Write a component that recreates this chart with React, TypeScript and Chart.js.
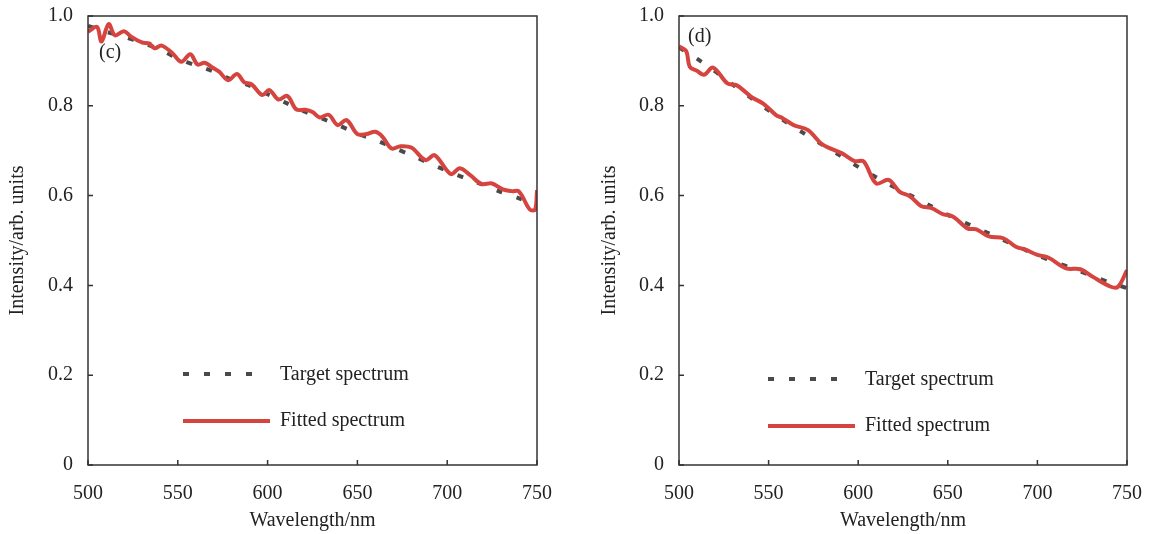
import React, { useEffect, useRef } from "react";
import { Chart, registerables } from "chart.js";

Chart.register(...registerables);

// ---------- tick labels ----------
const xTickValues = [500, 550, 600, 650, 700, 750];
const yTickValues = [0, 0.2, 0.4, 0.6, 0.8, 1.0];
const yTickLabels = ["0", "0.2", "0.4", "0.6", "0.8", "1.0"];

// ---------- panel (c) ----------
const targetC_wl = [500, 510, 520, 530, 540, 550, 560, 570, 580, 590, 600, 610, 620, 630, 640, 650, 660, 670, 680, 690, 700, 710, 720, 730, 740, 750];
const targetC = [0.978, 0.965, 0.954, 0.94, 0.926, 0.905, 0.89, 0.876, 0.858, 0.845, 0.826, 0.807, 0.788, 0.772, 0.756, 0.738, 0.724, 0.707, 0.69, 0.672, 0.655, 0.639, 0.624, 0.608, 0.594, 0.578];

const fittedC_wl = [500, 505, 507.5, 511.5, 515, 520, 524, 530, 534, 537, 541, 547, 552, 557, 561, 565, 569, 573, 578, 583, 587, 591, 597, 601, 606, 611, 616, 621, 625, 629, 634, 639, 644, 650, 655, 660, 664, 669, 674, 680, 688, 693, 702, 707, 713, 719, 725, 731, 736, 740, 746, 749, 750];
const fittedC = [0.965, 0.976, 0.943, 0.982, 0.957, 0.966, 0.954, 0.941, 0.939, 0.928, 0.934, 0.917, 0.898, 0.915, 0.892, 0.896, 0.886, 0.876, 0.857, 0.871, 0.852, 0.848, 0.824, 0.835, 0.814, 0.822, 0.792, 0.791, 0.786, 0.774, 0.78, 0.757, 0.768, 0.737, 0.737, 0.742, 0.731, 0.705, 0.71, 0.707, 0.679, 0.69, 0.648, 0.661, 0.645, 0.626, 0.627, 0.614, 0.61, 0.609, 0.569, 0.569, 0.612];

// ---------- panel (d) ----------
const targetD_wl = [500, 510, 520, 530, 540, 550, 560, 570, 580, 590, 600, 610, 620, 630, 640, 650, 660, 670, 680, 690, 700, 710, 720, 730, 740, 750];
const targetD = [0.93, 0.905, 0.877, 0.847, 0.818, 0.79, 0.763, 0.738, 0.713, 0.689, 0.664, 0.641, 0.619, 0.599, 0.578, 0.557, 0.539, 0.521, 0.503, 0.485, 0.467, 0.452, 0.437, 0.422, 0.407, 0.394];

const fittedD_wl = [500, 504, 506, 510, 514, 519, 527, 532, 537, 541, 547, 554, 558, 564, 572, 580, 591, 598, 603, 610, 617, 623, 629, 635, 641, 647, 653, 661, 666, 673, 681, 688, 693, 700, 706, 716, 724, 731, 741, 745, 750];
const fittedD = [0.932, 0.922, 0.887, 0.878, 0.869, 0.885, 0.85, 0.846, 0.831, 0.818, 0.805, 0.78, 0.772, 0.757, 0.746, 0.714, 0.694, 0.677, 0.676, 0.627, 0.635, 0.609, 0.598, 0.577, 0.572, 0.559, 0.553, 0.527, 0.525, 0.509, 0.505, 0.486, 0.48, 0.468, 0.462, 0.438, 0.436, 0.419, 0.397, 0.397, 0.434];

const legendLabels = ["Target spectrum", "Fitted spectrum"];

const FONT_FAMILY = "'Liberation Serif', 'Times New Roman', serif";
const TEXT_COLOR = "#222222";
const AXIS_COLOR = "#333333";
const RED = "#d5443f";
const DOT = "#4a4a4a";
const DASH = [6, 15];

const decoPlugin = {
  id: "deco",
  afterDraw(chart: any, _args: any, opts: any) {
    const ctx = chart.ctx;
    const { left, right, top, bottom } = chart.chartArea;
    ctx.save();
    // frame
    ctx.strokeStyle = AXIS_COLOR;
    ctx.lineWidth = 1.5;
    ctx.setLineDash([]);
    ctx.strokeRect(left, top, right - left, bottom - top);
    // inner ticks
    const xs = chart.scales.x;
    const ys = chart.scales.y;
    ctx.beginPath();
    xTickValues.forEach((v) => {
      const px = xs.getPixelForValue(v);
      ctx.moveTo(px, bottom);
      ctx.lineTo(px, bottom - 5);
    });
    yTickValues.forEach((v) => {
      const py = ys.getPixelForValue(v);
      ctx.moveTo(left, py);
      ctx.lineTo(left + 5, py);
    });
    ctx.stroke();
    // panel label
    ctx.fillStyle = TEXT_COLOR;
    ctx.font = `20px ${FONT_FAMILY}`;
    ctx.textBaseline = "middle";
    ctx.textAlign = "left";
    ctx.fillText(opts.label, opts.labelX, opts.labelY);
    // legend
    ctx.lineWidth = 4;
    ctx.strokeStyle = DOT;
    ctx.setLineDash(DASH);
    ctx.beginPath();
    ctx.moveTo(opts.legX, opts.legY1);
    ctx.lineTo(opts.legX + 74, opts.legY1);
    ctx.stroke();
    ctx.setLineDash([]);
    ctx.strokeStyle = RED;
    ctx.beginPath();
    ctx.moveTo(opts.legX, opts.legY2);
    ctx.lineTo(opts.legX + 87, opts.legY2);
    ctx.stroke();
    ctx.fillText(legendLabels[0], opts.textX, opts.legY1 + 1);
    ctx.fillText(legendLabels[1], opts.textX, opts.legY2);
    ctx.restore();
  },
};

function makeConfig(
  targetWl: number[],
  target: number[],
  fittedWl: number[],
  fitted: number[],
  yAxisWidth: number,
  titlePadTop: number,
  deco: any
): any {
  const font = { family: FONT_FAMILY, size: 20 };
  return {
    type: "line",
    data: {
      datasets: [
        {
          label: legendLabels[1],
          data: fittedWl.map((x, i) => ({ x, y: fitted[i] })),
          borderColor: RED,
          borderWidth: 4,
          pointRadius: 0,
          tension: 0.35,
          fill: false,
        },
        {
          label: legendLabels[0],
          data: targetWl.map((x, i) => ({ x, y: target[i] })),
          borderColor: DOT,
          borderWidth: 4,
          borderDash: DASH,
          pointRadius: 0,
          tension: 0.3,
          fill: false,
        },
      ],
    },
    options: {
      animation: false,
      responsive: false,
      devicePixelRatio: 1,
      layout: { padding: deco.padding },
      plugins: {
        legend: { display: false },
        tooltip: { enabled: false },
        deco,
      },
      scales: {
        x: {
          type: "linear",
          min: 500,
          max: 750,
          afterBuildTicks: (s: any) => {
            s.ticks = xTickValues.map((v) => ({ value: v }));
          },
          afterFit: (s: any) => {
            s.height = 68;
            s.paddingLeft = 0;
            s.paddingRight = 0;
          },
          ticks: {
            font,
            color: TEXT_COLOR,
            padding: 17,
            maxRotation: 0,
            autoSkip: false,
            callback: (v: any) => String(v),
          },
          grid: { display: false, drawTicks: false },
          border: { display: false },
          title: { display: true, text: "Wavelength/nm", font, color: TEXT_COLOR, padding: 0 },
        },
        y: {
          type: "linear",
          min: 0,
          max: 1,
          afterBuildTicks: (s: any) => {
            s.ticks = yTickValues.map((v) => ({ value: v }));
          },
          afterFit: (s: any) => {
            s.width = yAxisWidth;
            s.paddingTop = 0;
            s.paddingBottom = 0;
          },
          ticks: {
            font,
            color: TEXT_COLOR,
            padding: 15,
            autoSkip: false,
            callback: (v: any) => {
              const i = yTickValues.findIndex((t) => Math.abs(t - v) < 1e-6);
              return i >= 0 ? yTickLabels[i] : "";
            },
          },
          grid: { display: false, drawTicks: false },
          border: { display: false },
          title: {
            display: true,
            text: "Intensity/arb. units",
            font,
            color: TEXT_COLOR,
            padding: { top: titlePadTop, bottom: 0 },
          },
        },
      },
    },
    plugins: [decoPlugin],
  };
}

function Panel(props: { left: number; width: number; config: () => any }) {
  const ref = useRef<HTMLCanvasElement | null>(null);
  useEffect(() => {
    if (!ref.current) return;
    const chart = new Chart(ref.current, props.config());
    return () => chart.destroy();
  }, []);
  return (
    <canvas
      ref={ref}
      width={props.width}
      height={534}
      style={{ position: "absolute", left: props.left, top: 0, width: props.width, height: 534 }}
    />
  );
}

export default function App() {
  return (
    <div style={{ position: "absolute", left: 0, top: 0, width: 1151, height: 534, background: "#ffffff" }}>
      <Panel
        left={0}
        width={575}
        config={() =>
          makeConfig(targetC_wl, targetC, fittedC_wl, fittedC, 88, 6, {
            padding: { left: 0, right: 38, top: 16, bottom: 1 },
            label: "(c)",
            labelX: 99,
            labelY: 53,
            legX: 183,
            legY1: 374,
            legY2: 421,
            textX: 280,
          })
        }
      />
      <Panel
        left={590}
        width={561}
        config={() =>
          makeConfig(targetD_wl, targetD, fittedD_wl, fittedD, 89, 8, {
            padding: { left: 0, right: 24, top: 16, bottom: 1 },
            label: "(d)",
            labelX: 98,
            labelY: 37,
            legX: 178,
            legY1: 379,
            legY2: 426,
            textX: 275,
          })
        }
      />
    </div>
  );
}
